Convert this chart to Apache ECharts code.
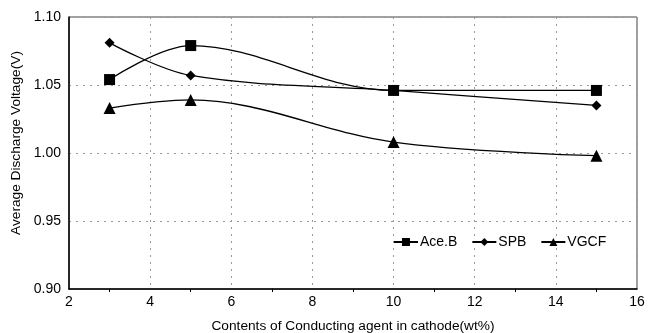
<!DOCTYPE html>
<html><head><meta charset="utf-8">
<script src="https://cdn.jsdelivr.net/npm/echarts@6/dist/echarts.min.js"></script>
<style>html,body{margin:0;padding:0;background:#fff}#c{width:660px;height:333px}</style>
</head><body><div id="c"></div>
<script>
const xValues = [3, 5, 10, 15];
const aceB = [1.054, 1.079, 1.046, 1.046];
const spb = [1.081, 1.057, 1.046, 1.035];
const vgcf = [1.033, 1.039, 1.008, 0.998];
const seriesNames = ['Ace.B', 'SPB', 'VGCF'];
const xTitle = 'Contents of Conducting agent in cathode(wt%)';
const yTitle = 'Average Discharge Voltage(V)';

const pairs = arr => arr.map((v, i) => [xValues[i], v]);
const font = 'Liberation Sans, Arial, sans-serif';
const chart = echarts.init(document.getElementById('c'));
const mk = (name, data, symbol, size) => ({
  name, type: 'line', data: pairs(data), smooth: 0.35,
  symbol, symbolSize: size, showSymbol: true,
  lineStyle: {color: '#000', width: 1.3}, itemStyle: {color: '#000'}
});
chart.setOption({
  animation: false,
  backgroundColor: '#fff',
  grid: {left: 69, right: 23, top: 17, bottom: 44, show: true, borderColor: '#444', borderWidth: 1,
         containLabel: false, outerBoundsMode: 'none'},
  legend: {
    data: seriesNames, left: 388, top: 230, itemWidth: 24, itemHeight: 10, itemGap: 14,
    textStyle: {fontFamily: font, fontSize: 14, color: '#000', padding: [0, 0, 0, -3]}
  },
  xAxis: {
    type: 'value', min: 2, max: 16, interval: 2,
    name: xTitle, nameLocation: 'middle', nameGap: 30,
    nameTextStyle: {fontFamily: font, fontSize: 13.7, color: '#000'},
    axisLine: {lineStyle: {color: '#000', width: 1.5}},
    axisTick: {show: false},
    minorTick: {show: true, splitNumber: 2, length: 3, lineStyle: {color: '#000'}},
    axisLabel: {fontFamily: font, fontSize: 14, color: '#000', margin: 6},
    splitLine: {show: true, lineStyle: {color: '#999', type: [2, 5], width: 1}}
  },
  yAxis: {
    type: 'value', min: 0.90, max: 1.10, interval: 0.05,
    name: yTitle, nameLocation: 'middle', nameGap: 46,
    nameTextStyle: {fontFamily: font, fontSize: 13.7, color: '#000', padding: [0, 0, 0, 20]},
    axisLine: {show: true, lineStyle: {color: '#000', width: 1.5}},
    axisTick: {show: false},
    axisLabel: {fontFamily: font, fontSize: 14, color: '#000', margin: 8, formatter: v => v.toFixed(2)},
    splitLine: {show: true, lineStyle: {color: '#999', type: [2, 5], width: 1}}
  },
  series: [
    mk(seriesNames[0], aceB, 'rect', 11),
    mk(seriesNames[1], spb, 'diamond', 10),
    mk(seriesNames[2], vgcf, 'triangle', 12)
  ]
});
</script></body></html>
